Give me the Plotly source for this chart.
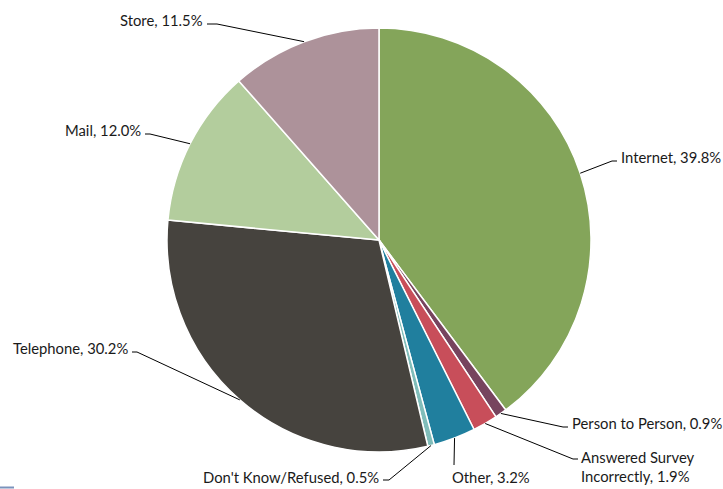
import math
import plotly.graph_objects as go

# Survey response channels, clockwise from 12 o'clock
channels = ["Internet", "Person to Person", "Answered Survey Incorrectly", "Other",
            "Don't Know/Refused", "Telephone", "Mail", "Store"]
shares = [39.8, 0.9, 1.9, 3.2, 0.5, 30.2, 12.0, 11.5]
label_texts = ["Internet, 39.8%", "Person to Person, 0.9%", "Answered Survey<br>Incorrectly, 1.9%",
               "Other, 3.2%", "Don't Know/Refused, 0.5%", "Telephone, 30.2%",
               "Mail, 12.0%", "Store, 11.5%"]
colors = ["#84A55A", "#77445E", "#C84E5A", "#207F9E", "#80BDBA", "#46433E", "#B3CD9D", "#AD929A"]

W, H = 723, 489
CX, CY, R = 379, 240, 212  # pie centre and radius in pixels

# Label placement: elbow point of leader, end of short tick, text anchor point, x-anchor
label_layout = [
    dict(elbow=(612, 161), tick=(617, 161), text=(619, 157), anchor="left"),
    dict(elbow=(563, 427), tick=(568, 427), text=(570, 423), anchor="left"),
    dict(elbow=(573, 459), tick=(578, 459), text=(579, 466), anchor="left"),
    dict(elbow=(454, 465), tick=(454, 465), text=(450, 477), anchor="left"),
    dict(elbow=(389, 480), tick=(383, 480), text=(381, 477), anchor="right"),
    dict(elbow=(137, 352), tick=(132, 352), text=(130, 348), anchor="right"),
    dict(elbow=(150, 134), tick=(145, 134), text=(143, 130), anchor="right"),
    dict(elbow=(217, 24), tick=(207, 24), text=(205, 20), anchor="right"),
]


def px(x):
    return x / W


def py(y):
    return 1 - y / H


fig = go.Figure(go.Pie(
    labels=channels,
    values=shares,
    sort=False,
    direction="clockwise",
    rotation=0,
    marker=dict(colors=colors, line=dict(color="white", width=1.5)),
    textinfo="none",
    hoverinfo="label+percent",
    domain=dict(x=[px(CX - R), px(CX + R)], y=[py(CY + R), py(CY - R)]),
    showlegend=False,
))

font = dict(family="Lato, Open Sans, sans-serif", size=14.8, color="#1A1A1A")
total = sum(shares)
cum = 0.0
shapes = []
annotations = []
for val, txt, lay in zip(shares, label_texts, label_layout):
    mid = (cum + val / 2) / total
    cum += val
    ang = 2 * math.pi * mid
    ex = CX + R * math.sin(ang)
    ey = CY - R * math.cos(ang)
    (bx, by), (tx, ty) = lay["elbow"], lay["tick"]
    path = f"M {px(ex)} {py(ey)} L {px(bx)} {py(by)} L {px(tx)} {py(ty)}"
    shapes.append(dict(type="path", xref="paper", yref="paper", path=path,
                       line=dict(color="#000000", width=1)))
    lx, ly = lay["text"]
    annotations.append(dict(x=px(lx), y=py(ly), xref="paper", yref="paper",
                            text=txt, showarrow=False, xanchor=lay["anchor"],
                            yanchor="middle", align="left", font=font))

# small accent rule at the lower-left corner
shapes.append(dict(type="line", xref="paper", yref="paper", x0=0, x1=px(14),
                   y0=py(487.5), y1=py(487.5), line=dict(color="#7A93BC", width=2)))

fig.update_layout(
    width=W, height=H,
    margin=dict(l=0, r=0, t=0, b=0),
    paper_bgcolor="white", plot_bgcolor="white",
    shapes=shapes, annotations=annotations,
)

fig.write_html("out.html")
